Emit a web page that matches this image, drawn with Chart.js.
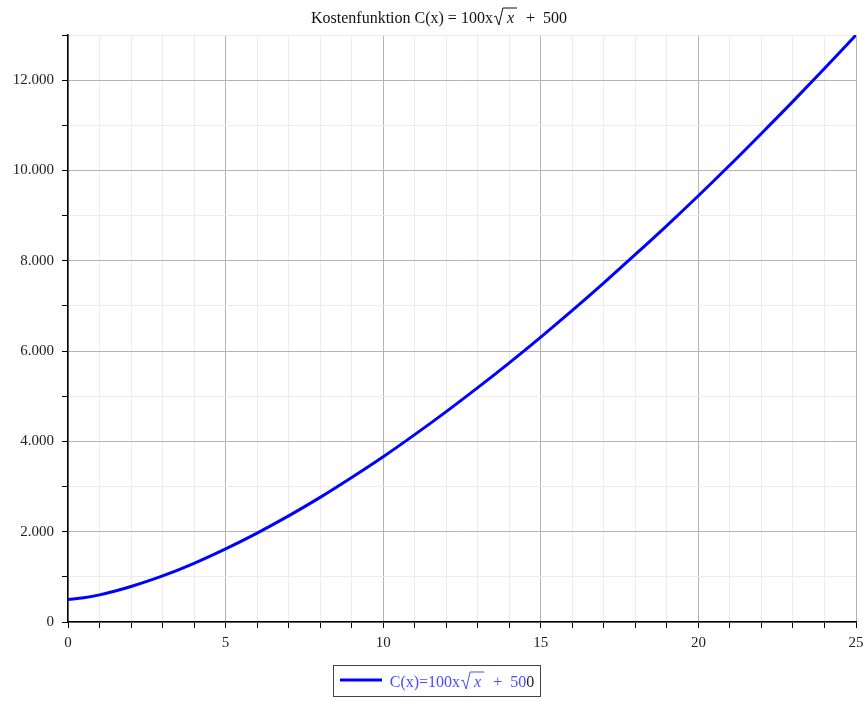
<!DOCTYPE html>
<html>
<head>
<meta charset="utf-8">
<script src="https://cdn.jsdelivr.net/npm/chart.js@4"></script>
<style>
  html, body { margin: 0; padding: 0; background: #ffffff; }
  #wrap { width: 866px; height: 702px; }
</style>
</head>
<body>
<div id="wrap"><canvas id="kosten" width="866" height="702"></canvas></div>
<script>
// values
const xValues = [0, 0.5, 1, 1.5, 2, 3, 4, 5, 6, 7, 8, 9, 10, 11, 12, 13, 14, 15, 16, 17, 18, 19, 20, 21, 22, 23, 24, 25];
const costValues = [500, 535, 600, 685, 785, 1020, 1300, 1620, 1970, 2350, 2760, 3200, 3660, 4150, 4660, 5190, 5740, 6310, 6900, 7510, 8140, 8780, 9440, 10120, 10820, 11530, 12260, 13000];
const xTickLabels = ['0', '5', '10', '15', '20', '25'];
const yTickLabels = ['0', '2.000', '4.000', '6.000', '8.000', '10.000', '12.000'];

const seriesName = 'C(x)=100x';
const FONT = '"Liberation Serif", "DejaVu Serif", serif';

// draws "prefix √x suffix" with a real radical bar
function drawRootFormula(ctx, prefix, suffix, x, y, size, color, suffixLastColor) {
  ctx.save();
  ctx.textBaseline = 'alphabetic';
  ctx.font = size + 'px ' + FONT;
  const wPre = ctx.measureText(prefix).width;
  ctx.font = 'italic ' + size + 'px ' + FONT;
  const wX = ctx.measureText('x').width;
  ctx.font = size + 'px ' + FONT;
  const wSuf = ctx.measureText(suffix).width;
  const radW = 10;
  const total = wPre + radW + wX + 4 + wSuf;
  let cx = x - total / 2;

  ctx.fillStyle = color;
  ctx.fillText(prefix, cx, y);
  cx += wPre + 1;
  ctx.strokeStyle = color;
  ctx.lineWidth = 1;
  ctx.beginPath();
  ctx.moveTo(cx, y - 6);
  ctx.lineTo(cx + 2, y - 7);
  ctx.lineTo(cx + 5, y + 2);
  ctx.lineTo(cx + 9, y - size + 1);
  ctx.lineTo(cx + 9 + wX + 7, y - size + 1);
  ctx.stroke();
  cx += radW + 3;
  ctx.font = 'italic ' + size + 'px ' + FONT;
  ctx.fillText('x', cx, y);
  cx += wX + 4;
  ctx.font = size + 'px ' + FONT;
  if (suffixLastColor) {
    const head = suffix.slice(0, -1);
    ctx.fillText(head, cx, y);
    ctx.fillStyle = suffixLastColor;
    ctx.fillText(suffix.slice(-1), cx + ctx.measureText(head).width, y);
  } else {
    ctx.fillText(suffix, cx, y);
  }
  ctx.restore();
}

const decorPlugin = {
  id: 'decor',
  afterDraw(chart) {
    const ctx = chart.ctx;
    // title
    drawRootFormula(ctx, 'Kostenfunktion C(x) = 100x', '  +  500', 437, 23, 16, '#111111');

    // legend box
    ctx.save();
    ctx.strokeStyle = '#444444';
    ctx.lineWidth = 1;
    ctx.strokeRect(333.5, 665.5, 207, 31);
    ctx.strokeStyle = '#0000ff';
    ctx.lineWidth = 3;
    ctx.beginPath();
    ctx.moveTo(340, 680);
    ctx.lineTo(382, 680);
    ctx.stroke();
    ctx.restore();
    drawRootFormula(ctx, seriesName, '  +  500', 460, 687, 16, '#4a4aff', '#222222');
  }
};

const ctx = document.getElementById('kosten').getContext('2d');
new Chart(ctx, {
  type: 'line',
  data: {
    datasets: [{
      label: seriesName,
      data: xValues.map((x, i) => ({ x: x, y: costValues[i] })),
      borderColor: '#0000ff',
      borderWidth: 3,
      pointRadius: 0,
      cubicInterpolationMode: 'monotone',
      fill: false
    }]
  },
  options: {
    responsive: false,
    animation: false,
    layout: { padding: { top: 35, right: 4, bottom: 40, left: 0 } },
    plugins: {
      legend: { display: false },
      title: { display: false },
      tooltip: { enabled: false }
    },
    scales: {
      x: {
        type: 'linear',
        min: 0,
        max: 25,
        afterFit(scale) { scale.height = 40; scale.paddingRight = 10; },
        border: { color: '#000000', width: 1.5 },
        grid: {
          color: c => (c.tick.value % 5 === 0 ? '#b4b4b4' : '#ececec'),
          lineWidth: 1,
          tickColor: '#000000',
          tickLength: 6
        },
        ticks: {
          stepSize: 1,
          autoSkip: false,
          maxRotation: 0,
          color: '#222222',
          font: { family: FONT, size: 15 },
          padding: 6,
          callback: v => (v % 5 === 0 ? xTickLabels[v / 5] : '')
        }
      },
      y: {
        min: 0,
        max: 13000,
        afterFit(scale) { scale.width = 68; },
        border: { color: '#000000', width: 1.5 },
        grid: {
          color: c => (c.tick.value % 2000 === 0 ? '#b4b4b4' : '#ececec'),
          lineWidth: 1,
          tickColor: '#000000',
          tickLength: 6
        },
        ticks: {
          stepSize: 1000,
          autoSkip: false,
          color: '#222222',
          font: { family: FONT, size: 15 },
          padding: 8,
          callback: v => (v % 2000 === 0 ? yTickLabels[v / 2000] : '')
        }
      }
    }
  },
  plugins: [decorPlugin]
});
</script>
</body>
</html>
